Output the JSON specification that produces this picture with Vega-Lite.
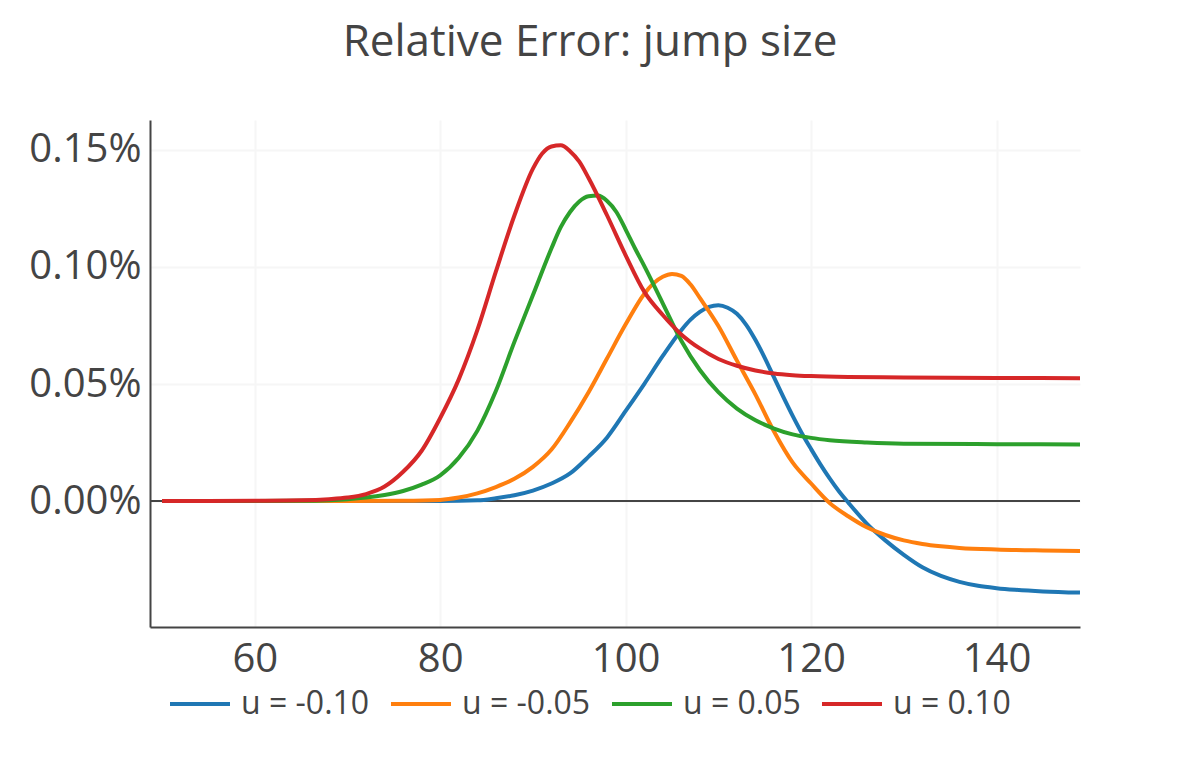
{
  "$schema": "https://vega.github.io/schema/vega-lite/v6.json",
  "width": 930,
  "height": 507,
  "autosize": {"type": "none"},
  "padding": {"left": 150, "top": 120, "right": 120, "bottom": 133},
  "background": "white",
  "title": {
    "text": "Relative Error: jump size",
    "font": "Open Sans",
    "fontSize": 44,
    "fontWeight": "normal",
    "color": "#444444",
    "anchor": "middle",
    "baseline": "alphabetic",
    "dx": -25,
    "offset": 20
  },
  "config": {
    "view": {"stroke": null},
    "font": "Open Sans",
    "axis": {
      "labelFont": "Open Sans",
      "labelFontSize": 40,
      "labelColor": "#444444",
      "gridColor": "#f6f6f6",
      "gridWidth": 2,
      "domainColor": "#444444",
      "domainWidth": 2,
      "ticks": false,
      "title": null
    }
  },
  "data": {
    "values": [
      {"u": "u = -0.10", "x": 50, "y": 0},
      {"u": "u = -0.10", "x": 80, "y": 0},
      {"u": "u = -0.10", "x": 84, "y": 0.000003},
      {"u": "u = -0.10", "x": 86, "y": 0.000012},
      {"u": "u = -0.10", "x": 88, "y": 0.000025},
      {"u": "u = -0.10", "x": 90, "y": 0.000045},
      {"u": "u = -0.10", "x": 92, "y": 0.000075},
      {"u": "u = -0.10", "x": 94, "y": 0.000118},
      {"u": "u = -0.10", "x": 96, "y": 0.00019},
      {"u": "u = -0.10", "x": 98, "y": 0.000272},
      {"u": "u = -0.10", "x": 100, "y": 0.000385},
      {"u": "u = -0.10", "x": 102, "y": 0.0005},
      {"u": "u = -0.10", "x": 104, "y": 0.00062},
      {"u": "u = -0.10", "x": 106, "y": 0.00073},
      {"u": "u = -0.10", "x": 107, "y": 0.000775},
      {"u": "u = -0.10", "x": 108, "y": 0.000808},
      {"u": "u = -0.10", "x": 109, "y": 0.00083},
      {"u": "u = -0.10", "x": 110, "y": 0.000837},
      {"u": "u = -0.10", "x": 111, "y": 0.000826},
      {"u": "u = -0.10", "x": 112, "y": 0.0008},
      {"u": "u = -0.10", "x": 113, "y": 0.000753},
      {"u": "u = -0.10", "x": 114, "y": 0.000688},
      {"u": "u = -0.10", "x": 115, "y": 0.000612},
      {"u": "u = -0.10", "x": 116, "y": 0.000528},
      {"u": "u = -0.10", "x": 117, "y": 0.000445},
      {"u": "u = -0.10", "x": 118, "y": 0.000365},
      {"u": "u = -0.10", "x": 119, "y": 0.00029},
      {"u": "u = -0.10", "x": 120, "y": 0.000222},
      {"u": "u = -0.10", "x": 121, "y": 0.000157},
      {"u": "u = -0.10", "x": 122, "y": 0.000097},
      {"u": "u = -0.10", "x": 123, "y": 0.000042},
      {"u": "u = -0.10", "x": 124, "y": -0.000006},
      {"u": "u = -0.10", "x": 126, "y": -0.000096},
      {"u": "u = -0.10", "x": 128, "y": -0.000168},
      {"u": "u = -0.10", "x": 130, "y": -0.00023},
      {"u": "u = -0.10", "x": 132, "y": -0.000283},
      {"u": "u = -0.10", "x": 134, "y": -0.00032},
      {"u": "u = -0.10", "x": 136, "y": -0.000345},
      {"u": "u = -0.10", "x": 138, "y": -0.000362},
      {"u": "u = -0.10", "x": 140, "y": -0.000372},
      {"u": "u = -0.10", "x": 142, "y": -0.000379},
      {"u": "u = -0.10", "x": 145, "y": -0.000386},
      {"u": "u = -0.10", "x": 149, "y": -0.000391},

      {"u": "u = -0.05", "x": 50, "y": 0},
      {"u": "u = -0.05", "x": 70, "y": 0},
      {"u": "u = -0.05", "x": 76, "y": 0.000001},
      {"u": "u = -0.05", "x": 80, "y": 0.000005},
      {"u": "u = -0.05", "x": 82, "y": 0.000015},
      {"u": "u = -0.05", "x": 84, "y": 0.000033},
      {"u": "u = -0.05", "x": 86, "y": 0.00006},
      {"u": "u = -0.05", "x": 88, "y": 0.000095},
      {"u": "u = -0.05", "x": 90, "y": 0.000146},
      {"u": "u = -0.05", "x": 92, "y": 0.00022},
      {"u": "u = -0.05", "x": 94, "y": 0.000335},
      {"u": "u = -0.05", "x": 96, "y": 0.000465},
      {"u": "u = -0.05", "x": 98, "y": 0.00061},
      {"u": "u = -0.05", "x": 100, "y": 0.000755},
      {"u": "u = -0.05", "x": 102, "y": 0.000885},
      {"u": "u = -0.05", "x": 103, "y": 0.00093},
      {"u": "u = -0.05", "x": 104, "y": 0.000958},
      {"u": "u = -0.05", "x": 105, "y": 0.00097},
      {"u": "u = -0.05", "x": 106, "y": 0.000962},
      {"u": "u = -0.05", "x": 107, "y": 0.000925},
      {"u": "u = -0.05", "x": 108, "y": 0.000868},
      {"u": "u = -0.05", "x": 110, "y": 0.000748},
      {"u": "u = -0.05", "x": 112, "y": 0.0006},
      {"u": "u = -0.05", "x": 114, "y": 0.000455},
      {"u": "u = -0.05", "x": 116, "y": 0.000297},
      {"u": "u = -0.05", "x": 118, "y": 0.000165},
      {"u": "u = -0.05", "x": 120, "y": 0.000075},
      {"u": "u = -0.05", "x": 122, "y": -0.000008},
      {"u": "u = -0.05", "x": 124, "y": -0.000065},
      {"u": "u = -0.05", "x": 126, "y": -0.000112},
      {"u": "u = -0.05", "x": 128, "y": -0.000145},
      {"u": "u = -0.05", "x": 130, "y": -0.000168},
      {"u": "u = -0.05", "x": 132, "y": -0.000183},
      {"u": "u = -0.05", "x": 134, "y": -0.000193},
      {"u": "u = -0.05", "x": 136, "y": -0.0002},
      {"u": "u = -0.05", "x": 140, "y": -0.000207},
      {"u": "u = -0.05", "x": 145, "y": -0.000211},
      {"u": "u = -0.05", "x": 149, "y": -0.000213},

      {"u": "u = 0.05", "x": 50, "y": 0},
      {"u": "u = 0.05", "x": 60, "y": 0},
      {"u": "u = 0.05", "x": 65, "y": 0.000001},
      {"u": "u = 0.05", "x": 68, "y": 0.000004},
      {"u": "u = 0.05", "x": 70, "y": 0.000008},
      {"u": "u = 0.05", "x": 72, "y": 0.000015},
      {"u": "u = 0.05", "x": 74, "y": 0.000026},
      {"u": "u = 0.05", "x": 76, "y": 0.000043},
      {"u": "u = 0.05", "x": 78, "y": 0.00007},
      {"u": "u = 0.05", "x": 80, "y": 0.00011},
      {"u": "u = 0.05", "x": 82, "y": 0.000185},
      {"u": "u = 0.05", "x": 84, "y": 0.0003},
      {"u": "u = 0.05", "x": 86, "y": 0.00047},
      {"u": "u = 0.05", "x": 88, "y": 0.00068},
      {"u": "u = 0.05", "x": 90, "y": 0.00088},
      {"u": "u = 0.05", "x": 92, "y": 0.00108},
      {"u": "u = 0.05", "x": 93, "y": 0.00117},
      {"u": "u = 0.05", "x": 94, "y": 0.001235},
      {"u": "u = 0.05", "x": 95, "y": 0.00128},
      {"u": "u = 0.05", "x": 96, "y": 0.001302},
      {"u": "u = 0.05", "x": 97, "y": 0.001305},
      {"u": "u = 0.05", "x": 98, "y": 0.001282},
      {"u": "u = 0.05", "x": 99, "y": 0.001235},
      {"u": "u = 0.05", "x": 100, "y": 0.00116},
      {"u": "u = 0.05", "x": 101, "y": 0.00108},
      {"u": "u = 0.05", "x": 102, "y": 0.001005},
      {"u": "u = 0.05", "x": 104, "y": 0.000845},
      {"u": "u = 0.05", "x": 106, "y": 0.000685},
      {"u": "u = 0.05", "x": 108, "y": 0.00056},
      {"u": "u = 0.05", "x": 110, "y": 0.000465},
      {"u": "u = 0.05", "x": 112, "y": 0.000395},
      {"u": "u = 0.05", "x": 114, "y": 0.000345},
      {"u": "u = 0.05", "x": 116, "y": 0.00031},
      {"u": "u = 0.05", "x": 118, "y": 0.000285},
      {"u": "u = 0.05", "x": 120, "y": 0.00027},
      {"u": "u = 0.05", "x": 122, "y": 0.00026},
      {"u": "u = 0.05", "x": 126, "y": 0.00025},
      {"u": "u = 0.05", "x": 130, "y": 0.000245},
      {"u": "u = 0.05", "x": 140, "y": 0.000243},
      {"u": "u = 0.05", "x": 149, "y": 0.000242},

      {"u": "u = 0.10", "x": 50, "y": 0},
      {"u": "u = 0.10", "x": 55, "y": 0},
      {"u": "u = 0.10", "x": 60, "y": 0.000001},
      {"u": "u = 0.10", "x": 65, "y": 0.000003},
      {"u": "u = 0.10", "x": 68, "y": 0.000008},
      {"u": "u = 0.10", "x": 70, "y": 0.000015},
      {"u": "u = 0.10", "x": 72, "y": 0.00003},
      {"u": "u = 0.10", "x": 74, "y": 0.000062},
      {"u": "u = 0.10", "x": 76, "y": 0.000125},
      {"u": "u = 0.10", "x": 78, "y": 0.000215},
      {"u": "u = 0.10", "x": 80, "y": 0.000355},
      {"u": "u = 0.10", "x": 82, "y": 0.00052},
      {"u": "u = 0.10", "x": 84, "y": 0.00073},
      {"u": "u = 0.10", "x": 86, "y": 0.00098},
      {"u": "u = 0.10", "x": 88, "y": 0.00122},
      {"u": "u = 0.10", "x": 90, "y": 0.00142},
      {"u": "u = 0.10", "x": 91, "y": 0.001485},
      {"u": "u = 0.10", "x": 92, "y": 0.001515},
      {"u": "u = 0.10", "x": 93, "y": 0.00152},
      {"u": "u = 0.10", "x": 94, "y": 0.001495},
      {"u": "u = 0.10", "x": 95, "y": 0.00145},
      {"u": "u = 0.10", "x": 96, "y": 0.00138},
      {"u": "u = 0.10", "x": 98, "y": 0.00122},
      {"u": "u = 0.10", "x": 100, "y": 0.00105},
      {"u": "u = 0.10", "x": 102, "y": 0.000895},
      {"u": "u = 0.10", "x": 104, "y": 0.000795},
      {"u": "u = 0.10", "x": 106, "y": 0.000712},
      {"u": "u = 0.10", "x": 108, "y": 0.000652},
      {"u": "u = 0.10", "x": 110, "y": 0.000607},
      {"u": "u = 0.10", "x": 112, "y": 0.000578},
      {"u": "u = 0.10", "x": 114, "y": 0.000558},
      {"u": "u = 0.10", "x": 116, "y": 0.000545},
      {"u": "u = 0.10", "x": 118, "y": 0.000538},
      {"u": "u = 0.10", "x": 120, "y": 0.000534},
      {"u": "u = 0.10", "x": 124, "y": 0.00053},
      {"u": "u = 0.10", "x": 130, "y": 0.000528},
      {"u": "u = 0.10", "x": 140, "y": 0.000526},
      {"u": "u = 0.10", "x": 149, "y": 0.000525}
    ]
  },
  "encoding": {
    "x": {
      "field": "x",
      "type": "quantitative",
      "scale": {"domain": [48.7, 149], "nice": false, "zero": false},
      "axis": {"values": [60, 80, 100, 120, 140], "labelPadding": 12}
    },
    "y": {
      "field": "y",
      "type": "quantitative",
      "scale": {"domain": [-0.000538, 0.001628], "nice": false, "zero": false},
      "axis": {"values": [0, 0.0005, 0.001, 0.0015], "format": ".2%", "labelPadding": 9}
    }
  },
  "layer": [
    {
      "mark": {"type": "rule", "color": "#444444", "strokeWidth": 2},
      "encoding": {"y": {"datum": 0, "type": "quantitative"}, "x": {"value": 0}, "x2": {"value": 930}}
    },
    {
      "mark": {"type": "line", "strokeWidth": 4, "interpolate": "monotone", "clip": true},
      "encoding": {
        "color": {
          "field": "u",
          "type": "nominal",
          "scale": {
            "domain": ["u = -0.10", "u = -0.05", "u = 0.05", "u = 0.10"],
            "range": ["#1f77b4", "#ff7f0e", "#2ca02c", "#d62728"]
          },
          "legend": {
            "orient": "none",
            "direction": "horizontal",
            "legendX": 18,
            "legendY": 552,
            "title": null,
            "padding": 0,
            "symbolType": "stroke",
            "symbolSize": 3600,
            "symbolStrokeWidth": 4,
            "labelFont": "Open Sans",
            "labelFontSize": 32,
            "labelColor": "#444444",
            "labelOffset": 9,
            "columnPadding": 13
          }
        }
      }
    }
  ]
}
